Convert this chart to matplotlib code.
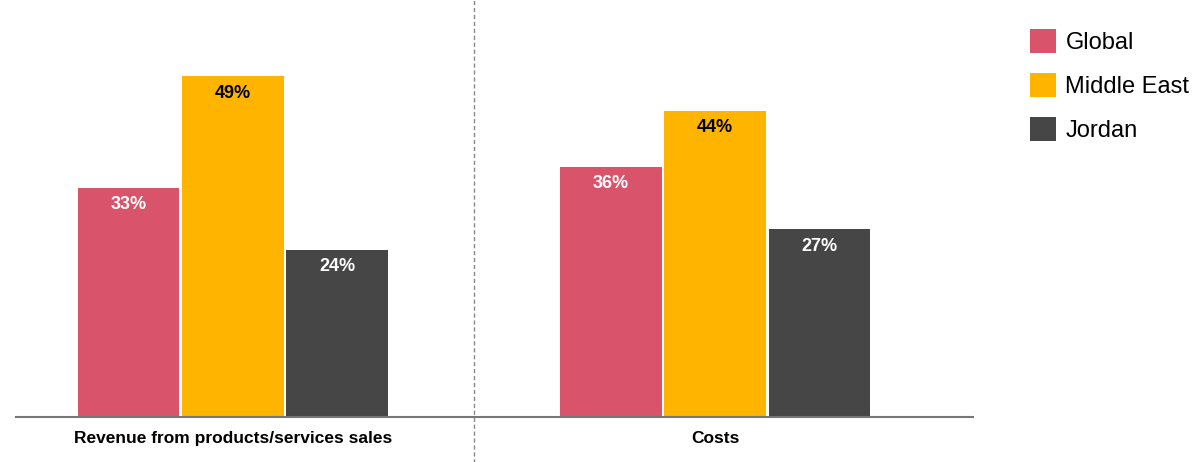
import numpy as np
import matplotlib.pyplot as plt
from matplotlib.patches import Patch

plt.rcParams["font.family"] = ["Liberation Sans", "DejaVu Sans"]

categories = ["Revenue from products/services sales", "Costs"]
series = ["Global", "Middle East", "Jordan"]
global_vals = [33, 36]
middle_east_vals = [49, 44]
jordan_vals = [24, 27]

colors = ["#D9546B", "#FFB400", "#464646"]
label_colors = ["white", "black", "white"]

fig = plt.figure(figsize=(12, 4.62), dpi=100)
ax = fig.add_axes([16 / 1200, 45 / 462, 957 / 1200, 417 / 462])

x = np.arange(len(categories))
width = 0.21
step = 0.216
values = [global_vals, middle_east_vals, jordan_vals]

for i, (vals, col, lc) in enumerate(zip(values, colors, label_colors)):
    pos = x + (i - 1) * step
    ax.bar(pos, vals, width=width, color=col, zorder=2)
    for p, v in zip(pos, vals):
        ax.text(p, v - 2.4, f"{v}%", ha="center", va="center",
                color=lc, fontsize=13, fontweight="bold", zorder=3)

ax.set_xlim(-0.45, 1.535)
ax.set_ylim(0, 60)
ax.set_yticks([])
ax.set_xticks(x)
ax.set_xticklabels(categories, fontsize=12.5, fontweight="bold")
ax.tick_params(axis="x", length=0, pad=10)

for s in ["top", "right", "left"]:
    ax.spines[s].set_visible(False)
ax.spines["bottom"].set_color("#777777")
ax.spines["bottom"].set_linewidth(1.5)

# separador punteado entre grupos
ax.axvline(0.5, ymin=-0.11, ymax=1.0, color="#888888", lw=1,
           linestyle=(0, (3, 2)), clip_on=False, zorder=1)

handles = [Patch(facecolor=c, label=s) for c, s in zip(colors, series)]
fig.legend(handles=handles, loc="upper left",
           bbox_to_anchor=(1030 / 1200, 1 - 29 / 462),
           frameon=False, fontsize=17, handlelength=1.1, handleheight=1.2,
           handletextpad=0.4, labelspacing=0.8, borderaxespad=0, borderpad=0)

fig.savefig("out.png", dpi=100)
